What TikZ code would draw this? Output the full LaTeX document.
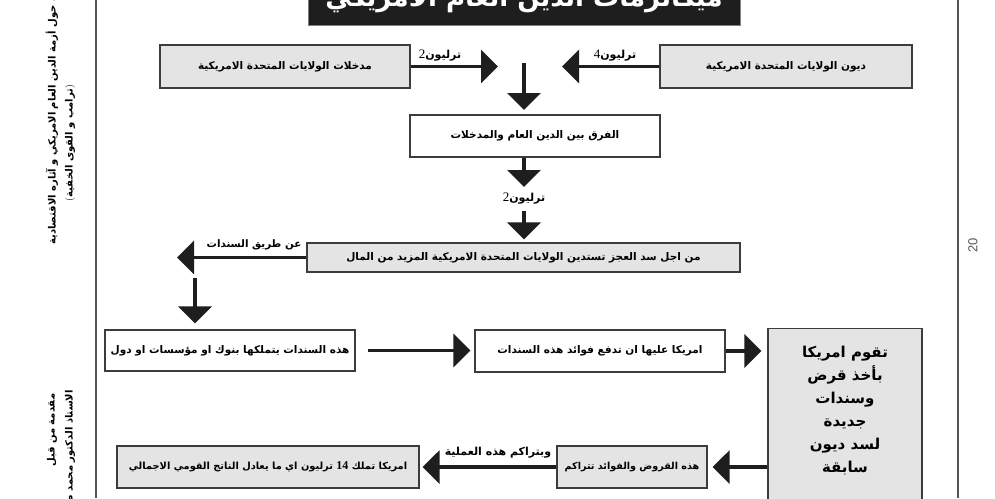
\documentclass[tikz,border=0pt]{standalone}
\usepackage{fontspec}
\usetikzlibrary{arrows.meta}
\TeXXeTstate=1
\newfontfamily\arabicfont[Script=Arabic]{DejaVu Sans}
\newfontfamily\numfont{Liberation Serif}
\setsansfont{Liberation Sans}
\newcommand\AR[1]{{\arabicfont\bfseries\beginR #1\endR}}
\definecolor{boxgray}{HTML}{E4E4E4}
\definecolor{edgegray}{HTML}{3C3C3C}
\definecolor{linegray}{HTML}{555555}
\definecolor{inkblack}{HTML}{1E1E1E}
\begin{document}
\begin{tikzpicture}[x=1pt,y=-1pt,
  box/.style={draw=edgegray,line width=1.3pt,inner sep=0pt,font=\fontsize{10.5}{12}\selectfont},
  greybox/.style={box,fill=boxgray},
  whitebox/.style={box,fill=white},
  bigarrow/.style={draw=inkblack,line width=3.5pt,-{Triangle[length=17pt,width=33pt]}},
  lbl/.style={inner sep=0pt,font=\fontsize{11}{12}\selectfont},
  side/.style={inner sep=0pt,rotate=90,font=\fontsize{10}{12}\selectfont}]
\useasboundingbox (0,0) rectangle (995,498);
\clip (0,0) rectangle (995,498);
\fill[white] (0,0) rectangle (995,498);

% page frame lines
\coordinate (lt) at (96,0); \coordinate (lb) at (96,498);
\coordinate (rt) at (958,0); \coordinate (rb) at (958,498);
\draw[linegray,line width=2pt] (lt) -- (lb);
\draw[linegray,line width=2pt] (rt) -- (rb);
\node[inner sep=0pt,rotate=90,text=linegray,font=\sffamily\fontsize{13}{14}\selectfont] (pg) at (973,245) {20};

% side texts
\node[side,anchor=west] (s1) at (52,245) {\AR{دراسة حول أزمة الدين العام الامريكي و آثاره الاقتصادية}};
\node[side] (s2) at (70,143) {(\AR{ترامب و القوى الخفية})};
\node[side,anchor=west] (s3) at (52,467) {\AR{مقدمة من قبل}};
\node[side,anchor=east] (s4) at (70,390) {\AR{الاستاذ الدكتور محمد صالح}};

% title
\node[draw=gray,line width=1pt,fill=inkblack,minimum width=432pt,minimum height=50pt,inner sep=0pt] (title) at (524,0) {};
\node[anchor=base,text=white,inner sep=0pt,font=\fontsize{26}{30}\selectfont] (titletext) at (524,6) {\AR{ميكانزمات الدين العام الامريكي}};

% boxes
\node[greybox,minimum width=250pt,minimum height=43pt] (inc) at (285,66.5) {\AR{مدخلات الولايات المتحدة الامريكية}};
\node[greybox,minimum width=252pt,minimum height=43pt] (debt) at (786,66.5) {\AR{ديون الولايات المتحدة الامريكية}};
\node[whitebox,minimum width=250pt,minimum height=42pt] (diff) at (535,136) {\AR{الفرق بين الدين العام والمدخلات}};
\node[greybox,minimum width=433pt,minimum height=29pt] (borrow) at (523.5,257.5) {\AR{من اجل سد العجز تستدين الولايات المتحدة الامريكية المزيد من المال}};
\node[whitebox,minimum width=250pt,minimum height=41pt] (own) at (230,350.5) {\AR{هذه السندات يتملكها بنوك او مؤسسات او دول}};
\node[whitebox,minimum width=250pt,minimum height=42pt] (pay) at (600,351) {\AR{امريكا عليها ان تدفع فوائد هذه السندات}};
\node[greybox,minimum width=154pt,minimum height=192pt,anchor=north] (newloan) at (845,328) {};
\node[inner sep=0pt,align=center,anchor=north,font=\fontsize{15}{23}\selectfont] (newloantext) at (845,346) {\AR{تقوم امريكا}\\ \AR{بأخذ قرض}\\ \AR{وسندات}\\ \AR{جديدة}\\ \AR{لسد ديون}\\ \AR{سابقة}};
\node[greybox,minimum width=150pt,minimum height=42pt,font=\fontsize{9.6}{12}\selectfont] (accum) at (632,467) {\AR{هذه القروض والفوائد تتراكم}};
\node[greybox,minimum width=302pt,minimum height=42pt,font=\fontsize{9.8}{12}\selectfont] (gdp) at (268,467) {\AR{امريكا تملك \beginL{\numfont\fontsize{12}{12}\selectfont 14}\endL{} ترليون اي ما يعادل الناتج القومي الاجمالي}};

% connectors, row 1
\coordinate (a1) at (498,66.5);
\coordinate (a2) at (562,66.5);
\draw[bigarrow] (inc.east) -- (a1);
\draw[bigarrow] (debt.west) -- (a2);
\node[lbl] (l1) at (440,56) {{\numfont\fontsize{13}{13}\selectfont 2}\AR{ترليون}};
\node[lbl] (l2) at (615,56) {{\numfont\fontsize{13}{13}\selectfont 4}\AR{ترليون}};
\coordinate (d1s) at (524,63);
\coordinate (d1e) at (524,110);
\draw[bigarrow] (d1s) -- (d1e);

% diff -> borrow
\coordinate (d2e) at (524,187);
\draw[bigarrow] (diff.south -| d2e) -- (d2e);
\node[lbl] (l3) at (524,199) {{\numfont\fontsize{13}{13}\selectfont 2}\AR{ترليون}};
\coordinate (d3s) at (524,211);
\draw[bigarrow,shorten >=3pt] (d3s) -- (borrow.north -| d3s);

% borrow -> left -> down
\coordinate (a3) at (177,257.5);
\draw[bigarrow] (borrow.west) -- (a3);
\node[lbl,font=\fontsize{10.3}{12}\selectfont] (l4) at (254,245) {\AR{عن طريق السندات}};
\coordinate (d4s) at (195,278);
\draw[bigarrow,shorten >=6pt] (d4s) -- (own.north -| d4s);

% row 3
\draw[bigarrow,shorten <=12pt,shorten >=4pt] (own.east) -- (pay.west |- own.east);
\draw[bigarrow,shorten >=6pt] (pay.east) -- (pay.east -| newloan.west);

% row 4
\draw[bigarrow,shorten >=5pt] (accum.east -| newloan.west) -- (accum.east);
\draw[bigarrow,shorten >=3pt] (accum.west) -- (gdp.east);
\node[lbl] (l5) at (498,453) {\AR{وبتراكم هذه العملية}};
\end{tikzpicture}
\end{document}
